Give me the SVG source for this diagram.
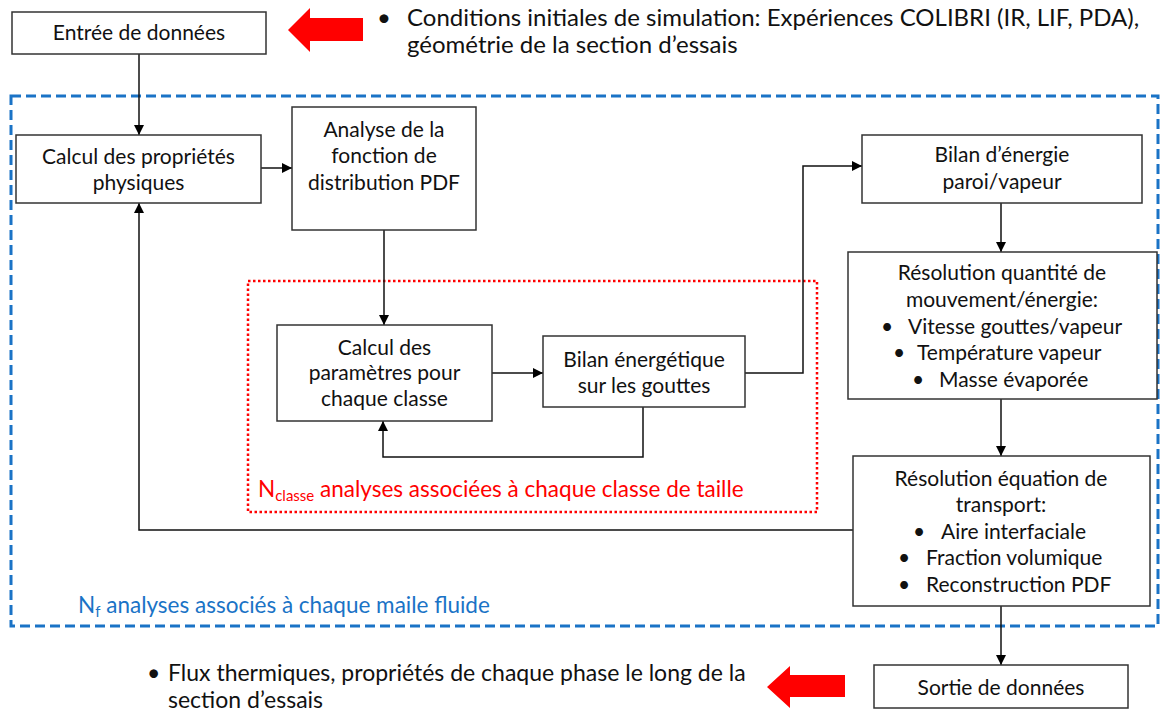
<svg xmlns="http://www.w3.org/2000/svg" width="1161" height="713" viewBox="0 0 1161 713">
<defs>
<marker id="ah" viewBox="0 0 10 10" refX="10" refY="5" markerWidth="10" markerHeight="10" markerUnits="userSpaceOnUse" orient="auto">
<path d="M0,0 L10,5 L0,10 z" fill="#000"/>
</marker>
<style>
.box{fill:#fff;stroke:#333;stroke-width:1.5}
.t{font-family:Lato,"Liberation Sans",sans-serif;font-size:21px;fill:#111;text-anchor:middle}
.tl{font-family:Lato,"Liberation Sans",sans-serif;font-size:21px;fill:#111}
.ann{font-family:Lato,"Liberation Sans",sans-serif;font-size:23px;fill:#111}
.lab{font-family:Lato,"Liberation Sans",sans-serif;font-size:22.5px}
.ca{fill:none;stroke:#111;stroke-width:1.5;marker-end:url(#ah)}
</style>
</defs>
<rect width="1161" height="713" fill="#fff"/>

<!-- containers -->
<rect id="fluid-loop" x="11" y="96" width="1147" height="530" fill="none" stroke="#1a73c6" stroke-width="3" stroke-dasharray="10,5"/>
<rect id="class-loop" x="248" y="281" width="569" height="231" fill="none" stroke="#ff0000" stroke-width="2.5" stroke-dasharray="2.5,2.5"/>

<!-- connectors -->
<g id="connectors">
<path class="ca" d="M139,54 V135"/>
<path class="ca" d="M261,168 H292"/>
<path class="ca" d="M384,230 V325"/>
<path class="ca" d="M492,373 H543"/>
<path class="ca" d="M643,407 V457 H383 V421"/>
<path class="ca" d="M745,373 H803 V166 H862"/>
<path class="ca" d="M1001,203 V252"/>
<path class="ca" d="M1001,399 V456"/>
<path class="ca" d="M853,530 H139 V203"/>
<path class="ca" d="M1001,606 V665"/>
</g>

<g id="entree">
<rect class="box" x="12" y="12" width="254" height="42"/>
<text class="t" x="139" y="40">Entrée de données</text>
</g>

<g id="arrow-in">
<polygon points="288,30 310,8 310,18 363,18 363,41 310,41 310,52" fill="#ff0000"/>
</g>

<g id="annotation-in">
<text class="ann" x="377" y="26" style="font-size:24px">•</text>
<text class="ann" x="407" y="26" style="font-size:24px">Conditions initiales de simulation: Expériences COLIBRI (IR, LIF, PDA),</text>
<text class="ann" x="407" y="53" style="font-size:24px">géométrie de la section d’essais</text>
</g>

<g id="calcul-proprietes">
<rect class="box" x="16" y="135" width="245" height="68"/>
<text class="t" x="138.5" y="164">Calcul des propriétés</text>
<text class="t" x="138.5" y="190">physiques</text>
</g>

<g id="analyse-pdf">
<rect class="box" x="292" y="107" width="184" height="123"/>
<text class="t" x="384" y="137">Analyse de la</text>
<text class="t" x="384" y="163">fonction de</text>
<text class="t" x="384" y="190">distribution PDF</text>
</g>

<g id="calcul-parametres">
<rect class="box" x="277" y="325" width="215" height="96"/>
<text class="t" x="384.5" y="355">Calcul des</text>
<text class="t" x="384.5" y="380">paramètres pour</text>
<text class="t" x="384.5" y="406">chaque classe</text>
</g>

<g id="bilan-gouttes">
<rect class="box" x="543" y="336" width="202" height="71"/>
<text class="t" x="644" y="367">Bilan énergétique</text>
<text class="t" x="644" y="393">sur les gouttes</text>
</g>

<g id="bilan-paroi">
<rect class="box" x="862" y="135" width="280" height="68"/>
<text class="t" x="1002" y="162">Bilan d’énergie</text>
<text class="t" x="1002" y="189">paroi/vapeur</text>
</g>

<g id="resolution-qdm">
<rect class="box" x="848" y="252" width="309" height="147"/>
<text class="t" x="1002" y="280">Résolution quantité de</text>
<text class="t" x="1002" y="307">mouvement/énergie:</text>
<text class="tl" x="881" y="334">•</text>
<text class="tl" x="908" y="334">Vitesse gouttes/vapeur</text>
<text class="tl" x="893" y="360">•</text>
<text class="tl" x="917" y="360">Température vapeur</text>
<text class="tl" x="912" y="387">•</text>
<text class="tl" x="939" y="387">Masse évaporée</text>
</g>

<g id="resolution-transport">
<rect class="box" x="853" y="456" width="297" height="150"/>
<text class="t" x="1001" y="486">Résolution équation de</text>
<text class="t" x="1001" y="512">transport:</text>
<text class="tl" x="913" y="539">•</text>
<text class="tl" x="941" y="539">Aire interfaciale</text>
<text class="tl" x="898" y="565">•</text>
<text class="tl" x="926" y="565">Fraction volumique</text>
<text class="tl" x="898" y="592">•</text>
<text class="tl" x="926" y="592">Reconstruction PDF</text>
</g>

<g id="sortie">
<rect class="box" x="874" y="665" width="254" height="43"/>
<text class="t" x="1001" y="695">Sortie de données</text>
</g>

<g id="arrow-out">
<polygon points="767,687 790,666 790,675 845,675 845,697 790,697 790,708" fill="#ff0000"/>
</g>

<g id="annotation-out">
<text class="ann" x="147" y="681">•</text>
<text class="ann" x="168" y="681">Flux thermiques, propriétés de chaque phase le long de la</text>
<text class="ann" x="168" y="708">section d’essais</text>
</g>

<g id="label-class">
<text class="lab" x="258" y="497" fill="#ff0000">N<tspan font-size="15" dy="4">classe</tspan><tspan dy="-4"> analyses associées à chaque classe de taille</tspan></text>
</g>

<g id="label-fluid">
<text class="lab" x="78" y="613" fill="#1a73c6">N<tspan font-size="15" dy="4">f</tspan><tspan dy="-4"> analyses associés à chaque maile fluide</tspan></text>
</g>
</svg>
